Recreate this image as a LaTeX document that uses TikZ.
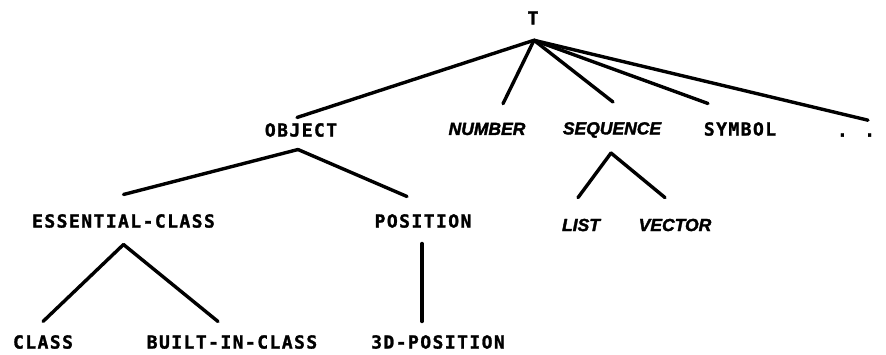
\documentclass[tikz,border=0pt]{standalone}
\usepackage{fontspec}
\usepackage{tikz}
\newfontfamily\treefont[LetterSpace=8, BoldFeatures={FakeBold=1.5}]{DejaVu Sans Mono}
\newfontfamily\typefont[FakeBold=2]{Liberation Sans Bold Italic}

\begin{document}
\begin{tikzpicture}[x=1bp,y=-1bp,
    branch/.style={line width=3.4bp, line cap=round},
    classname/.style={font=\treefont\bfseries\fontsize{18bp}{20bp}\selectfont, inner sep=0pt},
    typename/.style={font=\typefont\fontsize{17.5bp}{20bp}\selectfont, inner sep=0pt}]
    \useasboundingbox (0,0) rectangle (886,354);
    % labels
    \node[classname] (top) at (533,18) {T};
    \node[classname] (object) at (301,130) {OBJECT};
    \node[typename] (number) at (487,129) {NUMBER};
    \node[typename] (sequence) at (612,130) {SEQUENCE};
    \node[classname] (symbol) at (740,129) {SYMBOL};
    \node[classname] (more) at (856,135) {. .};
    \node[classname] (essential) at (123.5,221) {ESSENTIAL-CLASS};
    \node[classname] (position) at (423,221) {POSITION};
    \node[typename] (list) at (581,225) {LIST};
    \node[typename] (vector) at (675,225) {VECTOR};
    \node[classname] (class) at (43,342) {CLASS};
    \node[classname] (builtin) at (232,342) {BUILT-IN-CLASS};
    \node[classname] (position3d) at (438,342) {3D-POSITION};
    % forks
    \coordinate (top-fork) at ([shift={(1,15.5)}]top.south);
    \coordinate (object-fork) at ([shift={(-3,12.5)}]object.south);
    \coordinate (essential-fork) at ([shift={(0,16.5)}]essential.south);
    \coordinate (sequence-fork) at ([shift={(-1,15)}]sequence.south);
    % branches
    \draw[branch] (top-fork) -- ([shift={(-4,-5.5)}]object.north);
    \draw[branch] (top-fork) -- ([shift={(16,-19)}]number.north);
    \draw[branch] (top-fork) -- ([shift={(1,-20)}]sequence.north);
    \draw[branch] (top-fork) -- ([shift={(-32,-18.5)}]symbol.north);
    \draw[branch] (top-fork) -- ([shift={(12,-13)}]more.north);
    \draw[branch] (object-fork) -- ([shift={(0,-19.5)}]essential.north);
    \draw[branch] (object-fork) -- ([shift={(-16,-17.5)}]position.north);
    \draw[branch] (essential-fork) -- ([shift={(0,-13.5)}]class.north);
    \draw[branch] (essential-fork) -- ([shift={(-14,-13.5)}]builtin.north);
    \draw[branch] ([shift={(-1,15.5)}]position.south) -- ([shift={(-16,-13.5)}]position3d.north);
    \draw[branch] (sequence-fork) -- ([shift={(-3,-21)}]list.north);
    \draw[branch] (sequence-fork) -- ([shift={(-10,-21)}]vector.north);
\end{tikzpicture}
\end{document}
